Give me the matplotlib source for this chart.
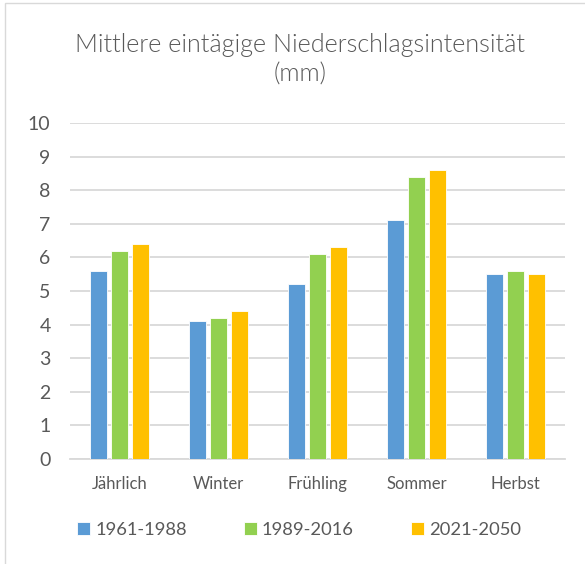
import numpy as np
import matplotlib.pyplot as plt
from matplotlib.patches import Rectangle

plt.rcParams['font.family'] = ['Lato', 'DejaVu Sans']

# data
categories = ["Jährlich", "Winter", "Frühling", "Sommer", "Herbst"]
series_names = ["1961-1988", "1989-2016", "2021-2050"]
v_1961 = [5.6, 4.1, 5.2, 7.1, 5.5]
v_1989 = [6.2, 4.2, 6.1, 8.4, 5.6]
v_2021 = [6.4, 4.4, 6.3, 8.6, 5.5]
colors = ["#5B9BD5", "#92D050", "#FFC000"]
text_col = "#595959"
grid_col = "#D9D9D9"

fig = plt.figure(figsize=(5.85, 5.64), dpi=100)
# chart border
fig.patches.append(Rectangle((5 / 585, -0.01), 1.0, 1.0 - 3 / 564 + 0.01,
                             transform=fig.transFigure, fill=False,
                             edgecolor=grid_col, linewidth=1.0))

ax = fig.add_axes([70 / 585, 105 / 564, 495 / 585, 336 / 564])

x = np.arange(len(categories))
width = 0.17
offset = 0.215
for i, vals in enumerate([v_1961, v_1989, v_2021]):
    ax.bar(x + (i - 1) * offset, vals, width, color=colors[i],
           edgecolor="white", linewidth=0.6, label=series_names[i], zorder=3)

ax.set_xlim(-0.5, 4.5)
ax.set_ylim(0, 10)
ax.set_yticks(range(0, 11))
ax.set_xticks(x)
ax.set_xticklabels(categories)
ax.yaxis.grid(True, color=grid_col, linewidth=1.3, zorder=0)
ax.set_axisbelow(True)
for s in ["top", "right", "left"]:
    ax.spines[s].set_visible(False)
ax.spines["bottom"].set_color(grid_col)
ax.spines["bottom"].set_linewidth(1.3)
ax.tick_params(axis="both", length=0, colors=text_col)
ax.tick_params(axis="y", labelsize=14, pad=14)
ax.tick_params(axis="x", labelsize=12, pad=12)

fig.text(300 / 585, 1 - 45 / 564, "Mittlere eintägige Niederschlagsintensität",
         ha="center", va="center", fontsize=18.1, fontweight=300,
         color=text_col)
fig.text(300 / 585, 1 - 75 / 564, "(mm)", ha="center", va="center",
         fontsize=18.1, fontweight=300, color=text_col)

fig.legend(loc="center", bbox_to_anchor=(299 / 585, 1 - 530 / 564), ncol=3,
           frameon=False, fontsize=13.2, labelcolor=text_col,
           handlelength=0.7, handleheight=0.7, handletextpad=0.3,
           columnspacing=3.1)

fig.savefig("out.png", dpi=100)
